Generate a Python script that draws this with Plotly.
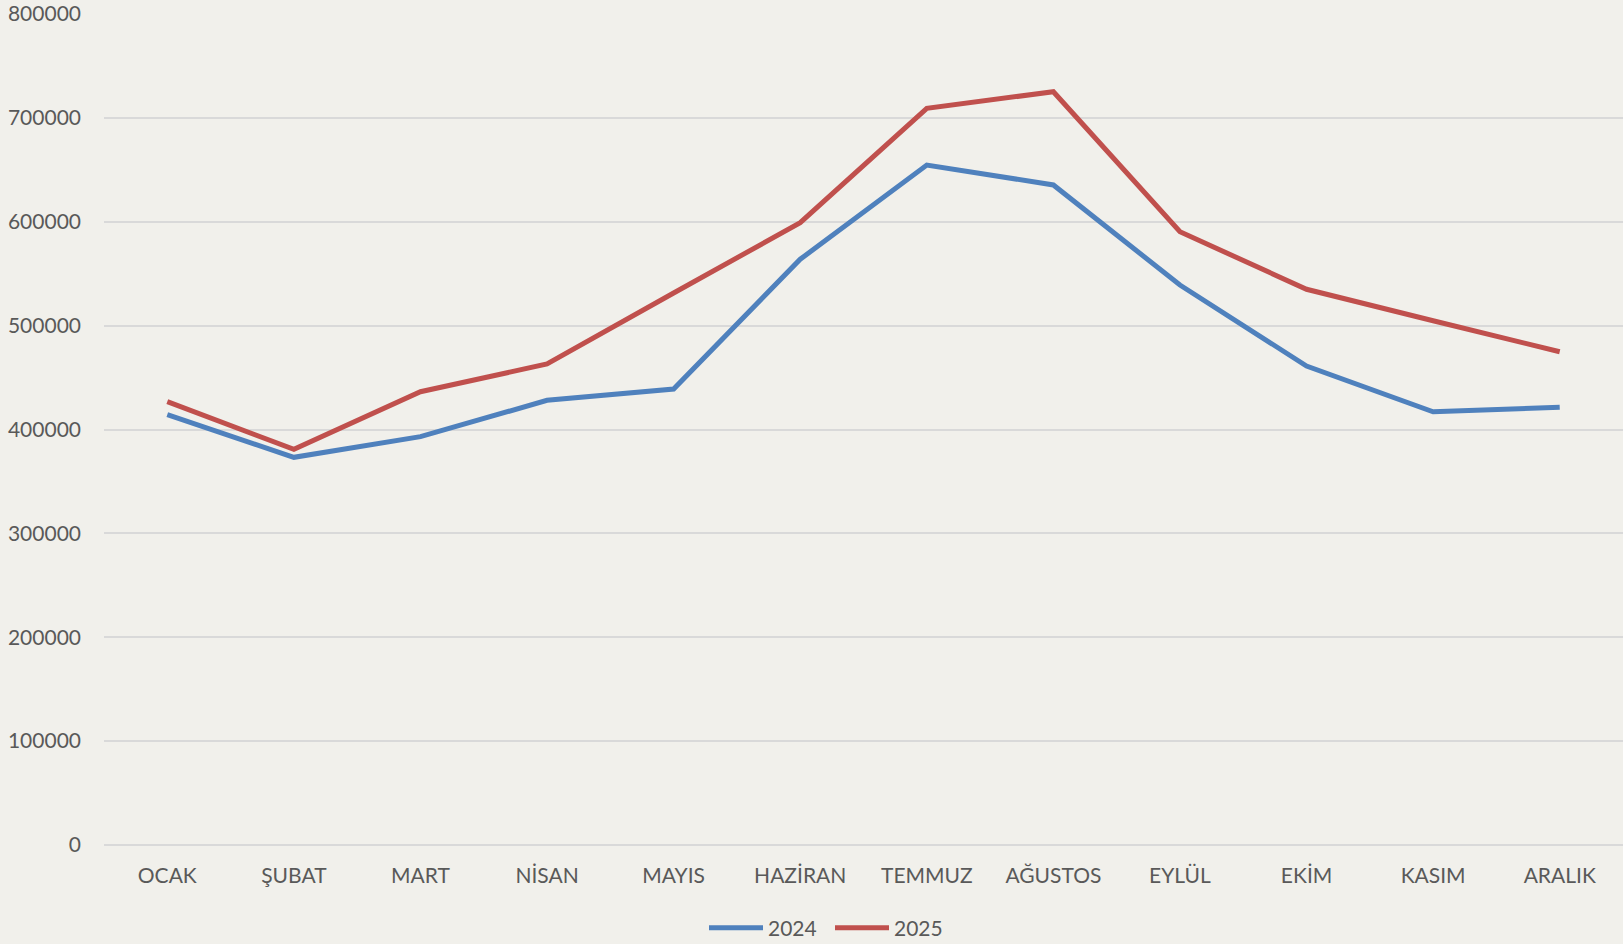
import plotly.graph_objects as go

months = ["OCAK", "ŞUBAT", "MART", "NİSAN", "MAYIS", "HAZİRAN", "TEMMUZ",
          "AĞUSTOS", "EYLÜL", "EKİM", "KASIM", "ARALIK"]
values_2024 = [414300, 373200, 393100, 428100, 439000, 563900, 654600,
               635400, 539100, 461100, 417100, 421400]
values_2025 = [426800, 380900, 436400, 463100, 531400, 599100, 709200,
               725200, 590400, 535000, 504700, 474900]
y_ticks = [0, 100000, 200000, 300000, 400000, 500000, 600000, 700000, 800000]

fig = go.Figure()
fig.add_trace(go.Scatter(x=months, y=values_2024, name="2024", mode="lines",
                         line=dict(color="#4f81bd", width=5)))
fig.add_trace(go.Scatter(x=months, y=values_2025, name="2025", mode="lines",
                         line=dict(color="#c0504d", width=5)))

font = dict(family="Lato, 'Open Sans', sans-serif", size=21, color="#595959")
fig.update_layout(
    width=1623, height=944,
    margin=dict(l=104, r=0, t=14, b=99, autoexpand=False),
    paper_bgcolor="#f1f0eb", plot_bgcolor="#f1f0eb",
    font=font,
    showlegend=True,
    legend=dict(orientation="h", x=0.395, xanchor="left", y=-0.1, yanchor="middle",
                font=font, bgcolor="rgba(0,0,0,0)", tracegroupgap=0,
                itemwidth=54, entrywidth=57, entrywidthmode="pixels"),
    xaxis=dict(showgrid=False, zeroline=False, showline=False, ticks="",
               tickfont=font, range=[-0.5, 11.5], ticklabelstandoff=16),
    yaxis=dict(range=[0, 800000], tickvals=y_ticks, ticktext=[str(v) for v in y_ticks],
               showgrid=True, gridcolor="#d9d9d9", gridwidth=1.5,
               zeroline=True, zerolinecolor="#d9d9d9", zerolinewidth=1.5,
               showline=False, ticks="", tickfont=font, ticklabelstandoff=22),
)
fig.write_html("out.html", config={"displayModeBar": False},
               post_script="document.body.style.margin='0';document.body.style.background='#f1f0eb';")
